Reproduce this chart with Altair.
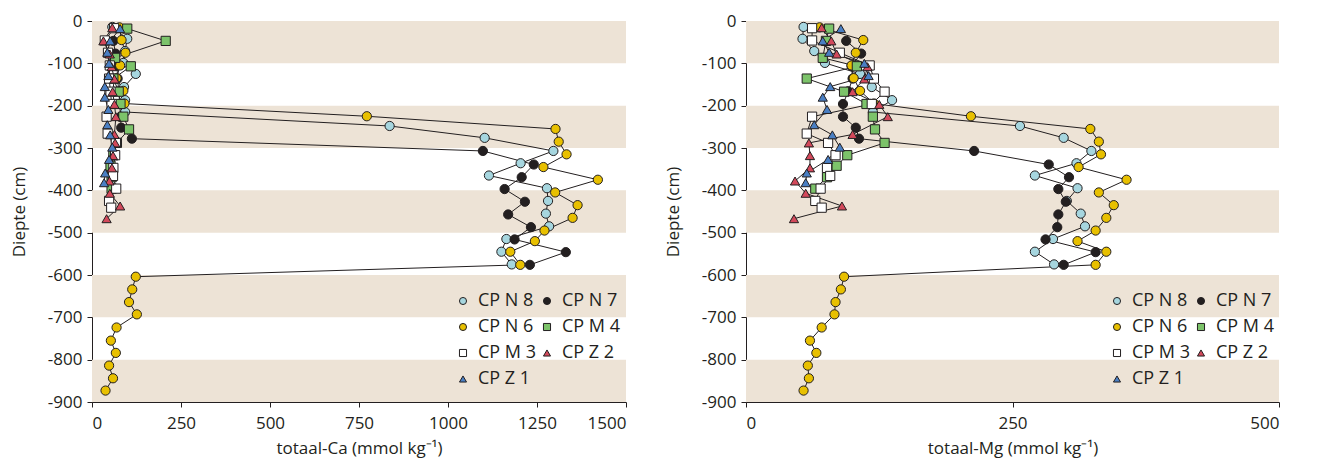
import altair as alt
import pandas as pd

FONT = "Open Sans"
INK = "#231f20"
BAND = "#ede3d6"

series_names = ["CP N 8", "CP N 7", "CP N 6", "CP M 4", "CP M 3", "CP  Z 2", "CP Z 1"]
series_fill = ["#a6d6df", "#231f20", "#e8c000", "#7cc36a", "#ffffff", "#d3495b", "#4a7fc3"]
series_shape = ["circle", "circle", "circle", "square", "square", "triangle-up", "triangle-up"]
# legend is filled column by column: this order gives rows N8|N7, N6|M4, M3|Z2, Z1
legend_order = ["CP N 8", "CP N 6", "CP M 3", "CP Z 1", "CP N 7", "CP M 4", "CP  Z 2"]

# depths (cm below surface) per profile
d_n8 = [14, 42, 71, 99, 125, 156, 187, 215, 248, 276, 307, 336, 365, 395, 425, 455, 485, 515, 545, 575]
d_n7 = [47, 77, 106, 136, 166, 196, 226, 252, 278, 307, 339, 369, 397, 427, 457, 487, 516, 546, 576]
d_n6 = [15, 45, 75, 105, 135, 165, 195, 225, 255, 285, 315, 345, 375, 405, 435, 465, 495, 520, 545, 576,
        604, 634, 664, 693, 724, 755, 784, 814, 844, 873]
d_m4 = [18, 47, 87, 107, 136, 167, 196, 226, 256, 288, 317, 342, 369, 396]
d_m3 = [17, 46, 75, 105, 136, 167, 196, 226, 266, 288, 317, 347, 366, 396, 425, 441]
d_z2 = [16, 47, 78, 108, 137, 167, 197, 226, 268, 288, 318, 347, 378, 407, 437, 467]
d_z1 = [18, 47, 74, 100, 129, 155, 180, 209, 245, 269, 298, 327, 359, 382]

# totaal-Ca (mmol/kg)
ca_n8 = [57, 99, 93, 88, 123, 90, 93, 93, 836, 1103, 1296, 1204, 1115, 1278, 1281, 1275, 1284, 1164, 1150, 1179]
ca_n7 = [60, 66, 70, 72, 75, 78, 80, 82, 112, 1098, 1241, 1207, 1159, 1216, 1169, 1233, 1187, 1331, 1230]
ca_n6 = [77, 83, 94, 79, 69, 88, 91, 772, 1302, 1311, 1333, 1268, 1421, 1301, 1364, 1350, 1271, 1244, 1175, 1203,
         123, 113, 104, 126, 69, 53, 67, 48, 59, 38]
ca_m4 = [99, 207, 65, 109, 60, 75, 80, 88, 104, 70, 60, 52, 55, 55]
ca_m3 = [62, 36, 45, 50, 48, 52, 55, 41, 44, 67, 65, 60, 59, 68, 48, 54]
ca_z2 = [57, 32, 50, 55, 63, 58, 63, 67, 63, 65, 59, 56, 49, 50, 79, 41]
ca_z1 = [79, 51, 43, 48, 46, 36, 36, 46, 43, 51, 57, 48, 37, 34]

# totaal-Mg (mmol/kg)
mg_n8 = [54, 53, 64, 74, 107, 118, 137, 119, 257, 298, 324, 310, 271, 311, 301, 314, 318, 288, 271, 289]
mg_n7 = [94, 108, 99, 100, 96, 91, 91, 103, 106, 214, 284, 303, 293, 300, 293, 292, 281, 328, 298]
mg_n6 = [69, 110, 103, 99, 101, 107, 120, 211, 323, 331, 333, 312, 357, 331, 345, 338, 328, 311, 338, 328,
         92, 89, 84, 83, 71, 60, 66, 58, 59, 54]
mg_m4 = [78, 75, 72, 104, 57, 92, 113, 119, 121, 130, 95, 85, 76, 65]
mg_m3 = [62, 62, 88, 116, 120, 130, 118, 62, 57, 77, 84, 76, 79, 70, 65, 71]
mg_z2 = [71, 80, 85, 114, 111, 100, 125, 133, 100, 59, 60, 60, 46, 56, 90, 45]
mg_z1 = [89, 72, 78, 111, 115, 79, 72, 76, 64, 81, 88, 77, 57, 56]

band_top = [0, -200, -400, -600, -800]
band_bottom = [-100, -300, -500, -700, -900]
y_ticks = [0, -100, -200, -300, -400, -500, -600, -700, -800, -900]

depths = [d_n8, d_n7, d_n6, d_m4, d_m3, d_z2, d_z1]
ca_vals = [ca_n8, ca_n7, ca_n6, ca_m4, ca_m3, ca_z2, ca_z1]
mg_vals = [mg_n8, mg_n7, mg_n6, mg_m4, mg_m3, mg_z2, mg_z1]

fill_map = dict(zip(series_names, series_fill))
shape_map = dict(zip(series_names, series_shape))


def make_df(vals):
    rows = []
    for s, (name, ds, vs) in enumerate(zip(series_names, depths, vals)):
        for i, (d, v) in enumerate(zip(ds, vs)):
            rows.append({"series": name, "sidx": s, "i": i, "depth": -d, "val": v})
    return pd.DataFrame(rows)


def panel(vals, xmax, xticks, xtitle, width):
    df = make_df(vals)
    bands = pd.DataFrame({"depth": band_top, "depth2": band_bottom,
                          "val": [0] * 5, "val2": [xmax] * 5})
    xenc = alt.X("val:Q", scale=alt.Scale(domain=[0, xmax], nice=False, zero=True),
                 axis=alt.Axis(values=xticks, title=xtitle, grid=False, format="d"))
    yenc = alt.Y("depth:Q", scale=alt.Scale(domain=[-900, 0], nice=False),
                 axis=alt.Axis(values=y_ticks, title="Diepte (cm)", grid=False,
                               labelExpr="datum.value == 0 ? '0' : '-' + abs(datum.value)"))
    band_layer = alt.Chart(bands).mark_rect(color=BAND).encode(
        x=xenc, x2="val2:Q", y=yenc, y2="depth2:Q")
    line_layer = alt.Chart(df).mark_line(color=INK, strokeWidth=1).encode(
        x=xenc, y=yenc, detail="series:N", order="i:Q")
    leg = alt.Legend(title=None, symbolStrokeWidth=1)
    point_layer = alt.Chart(df).mark_point(filled=True, size=85, strokeWidth=1,
                                           opacity=1).encode(
        x=xenc, y=yenc,
        fill=alt.Fill("series:N", sort=legend_order,
                      scale=alt.Scale(domain=legend_order,
                                      range=[fill_map[n] for n in legend_order]),
                      legend=leg),
        shape=alt.Shape("series:N", sort=legend_order,
                        scale=alt.Scale(domain=legend_order,
                                        range=[shape_map[n] for n in legend_order]),
                        legend=leg),
        stroke=alt.Stroke("series:N", sort=legend_order,
                          scale=alt.Scale(domain=legend_order, range=[INK] * len(legend_order)),
                          legend=leg),
        order="sidx:Q")
    return alt.layer(band_layer, line_layer, point_layer).properties(width=width, height=381)


left = panel(ca_vals, 1500, [0, 250, 500, 750, 1000, 1250, 1500], "totaal-Ca (mmol kg⁻¹)", 534)
right = panel(mg_vals, 500, [0, 250, 500], "totaal-Mg (mmol kg⁻¹)", 533)

chart = alt.hconcat(left, right, spacing=37).resolve_scale(
    x="independent", y="independent", fill="independent", shape="independent",
    stroke="independent"
).resolve_legend(fill="independent", shape="independent", stroke="independent").properties(
    padding={"left": 2, "top": 4, "right": 5, "bottom": 2}
).configure_view(stroke=None).configure_axis(
    domainColor=INK, tickColor=INK, labelColor=INK, titleColor=INK,
    labelFont=FONT, titleFont=FONT, labelFontSize=17, titleFontSize=17,
    titleFontWeight="normal", tickSize=5, domainWidth=1, tickWidth=1
).configure_axisX(labelPadding=8, titlePadding=9).configure_axisY(
    labelPadding=5, titlePadding=19
).configure_legend(
    orient="none", legendX=360, legendY=271, columns=2, labelFont=FONT, labelFontSize=18,
    labelColor=INK, symbolSize=50, symbolStrokeWidth=1,
    rowPadding=8, columnPadding=0, symbolOffset=2, labelOffset=6
)

chart.save("out.html", embed_options={"renderer": "svg", "actions": False})
